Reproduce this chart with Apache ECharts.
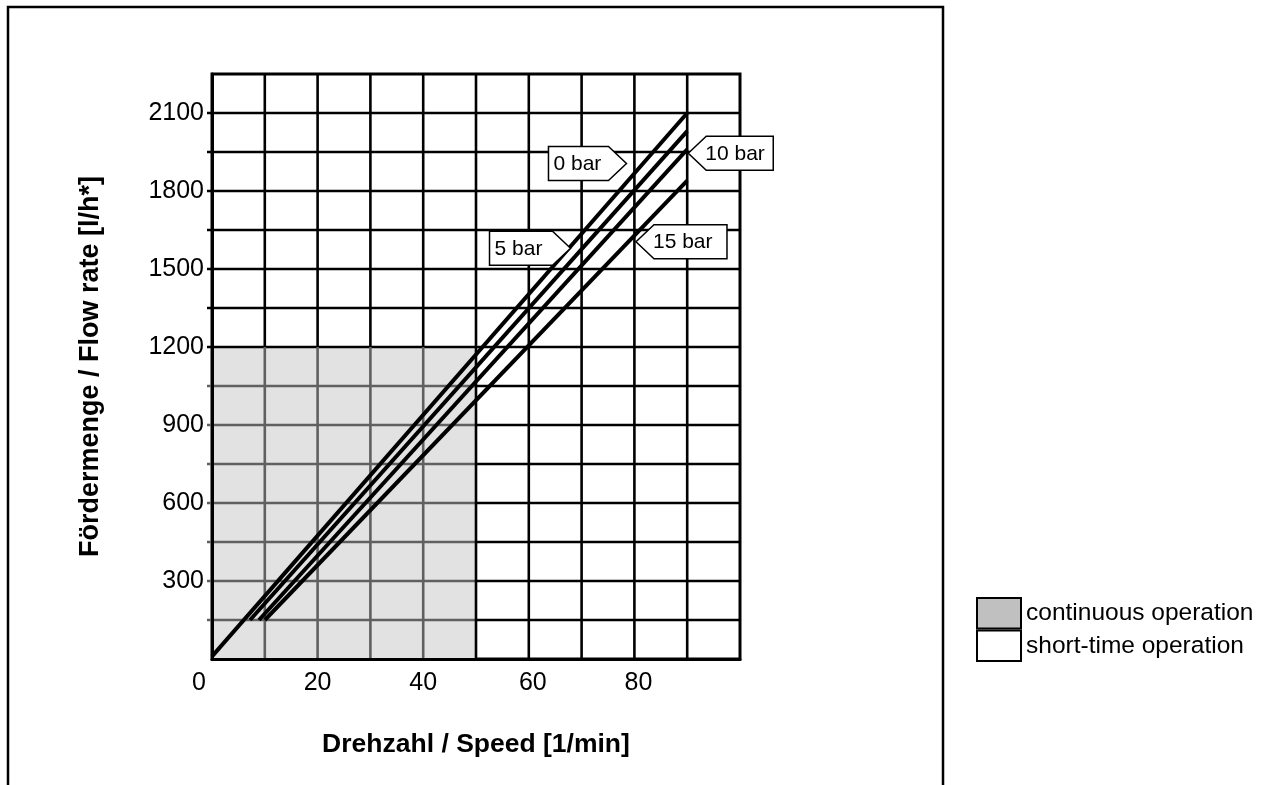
<!DOCTYPE html>
<html>
<head>
<meta charset="utf-8">
<script src="https://cdn.jsdelivr.net/npm/echarts@6/dist/echarts.min.js"></script>
<style>
html,body{margin:0;padding:0;background:#fff;}
#chart{width:1273px;height:785px;}
</style>
</head>
<body>
<div id="chart"></div>
<script>
// ---------- data ----------
const speedTicks = [0, 10, 20, 30, 40, 50, 60, 70, 80, 90, 100];
const flowTicks = [0, 150, 300, 450, 600, 750, 900, 1050, 1200, 1350, 1500, 1650, 1800, 1950, 2100, 2250];
const speedLabels = [0, 20, 40, 60, 80];
const flowLabels = [300, 600, 900, 1200, 1500, 1800, 2100];
const continuousSpeed = [0, 50];
const continuousFlow = [0, 1200];

const pressureNames = ['0 bar', '5 bar', '10 bar', '15 bar'];
const startSpeed = [0, 7.2, 8.9, 10];
const startFlow = [10, 150, 150, 150];
const endSpeed = [90, 90, 90, 90];
const endFlow = [2100, 2030, 1960, 1840];

const calloutSpeed = [78.5, 67.9, 90.2, 80.3];
const calloutFlow = [1906, 1580, 1945, 1605];
const calloutSide = ['left', 'left', 'right', 'right'];

const legendNames = ['continuous operation', 'short-time operation'];

// ---------- styles ----------
const FONT = '"Liberation Sans", Arial, Helvetica, sans-serif';
const calloutBoxWidth = [78, 81, 85, 91];
const GRID_BLACK = '#000000';
const GRID_GRAY = '#606060';
const AREA_GRAY = '#e2e2e2';
const LEGEND_GRAY = '#c0c0c0';

const chart = echarts.init(document.getElementById('chart'), null, { renderer: 'canvas' });

const lineSeries = pressureNames.map((name, i) => ({
  name: name,
  type: 'line',
  z: 4,
  symbol: 'none',
  silent: true,
  lineStyle: { color: '#000', width: 4 },
  data: [[startSpeed[i], startFlow[i]], [endSpeed[i], endFlow[i]]]
}));

const gridSeries = {
  name: legendNames[0],
  type: 'custom',
  z: 1,
  silent: true,
  clip: false,
  itemStyle: { color: LEGEND_GRAY },
  data: [[0]],
  renderItem: function (params, api) {
    const children = [];
    const xMin = speedTicks[0], xMax = speedTicks[speedTicks.length - 1];
    const yMin = flowTicks[0], yMax = flowTicks[flowTicks.length - 1];
    const cx = continuousSpeed[1], cy = continuousFlow[1];
    const a = api.coord([continuousSpeed[0], continuousFlow[1]]);
    const b = api.coord([continuousSpeed[1], continuousFlow[0]]);
    children.push({
      type: 'rect',
      shape: { x: a[0], y: a[1], width: b[0] - a[0], height: b[1] - a[1] },
      style: { fill: AREA_GRAY }
    });
    function seg(x1, y1, x2, y2, color, ext) {
      const p1 = api.coord([x1, y1]);
      const p2 = api.coord([x2, y2]);
      children.push({
        type: 'line',
        shape: { x1: p1[0] - (ext || 0), y1: p1[1], x2: p2[0], y2: p2[1] },
        style: { stroke: color, lineWidth: 2.6 }
      });
    }
    // horizontal grid lines (with short outward tick)
    flowTicks.slice(1, -1).forEach(function (w) {
      if (w < cy) {
        seg(xMin, w, cx, w, GRID_GRAY, 5);
        seg(cx, w, xMax, w, GRID_BLACK, 0);
      } else {
        seg(xMin, w, xMax, w, GRID_BLACK, 5);
      }
    });
    // vertical grid lines
    speedTicks.slice(1, -1).forEach(function (v) {
      if (v < cx) {
        seg(v, yMin, v, cy, GRID_GRAY, 0);
        seg(v, cy, v, yMax, GRID_BLACK, 0);
      } else {
        seg(v, yMin, v, yMax, GRID_BLACK, 0);
      }
    });
    return { type: 'group', children: children };
  }
};

const shortSeries = {
  name: legendNames[1],
  type: 'custom',
  silent: true,
  itemStyle: { color: '#fff' },
  data: [],
  renderItem: function () { return null; }
};

const calloutSeries = {
  name: 'callouts',
  type: 'custom',
  z: 6,
  silent: true,
  clip: false,
  data: pressureNames.map((n, i) => [i, calloutSpeed[i], calloutFlow[i]]),
  renderItem: function (params, api) {
    const i = api.value(0);
    const p = api.coord([api.value(1), api.value(2)]);
    const W = calloutBoxWidth[i], T = 18, U = 17, D = 17;
    let pts, tx;
    if (calloutSide[i] === 'left') {
      pts = [[p[0] - W, p[1] - U], [p[0] - T, p[1] - U], [p[0], p[1]], [p[0] - T, p[1] + D], [p[0] - W, p[1] + D]];
      tx = p[0] - W + 5;
    } else {
      pts = [[p[0], p[1]], [p[0] + T, p[1] - U], [p[0] + W, p[1] - U], [p[0] + W, p[1] + D], [p[0] + T, p[1] + D]];
      tx = p[0] + T - 1;
    }
    return {
      type: 'group',
      children: [
        { type: 'polygon', shape: { points: pts }, style: { fill: '#fff', stroke: '#000', lineWidth: 1.5 } },
        { type: 'text', style: { text: pressureNames[i], x: tx, y: p[1] + 1, align: 'left', verticalAlign: 'middle',
          font: '21px ' + FONT, fill: '#000' } }
      ]
    };
  }
};

const option = {
  animation: false,
  backgroundColor: '#fff',
  textStyle: { fontFamily: FONT },
  grid: {
    left: 212, right: 533, top: 74, bottom: 126,
    show: true, borderColor: '#000', borderWidth: 3, backgroundColor: 'transparent'
  },
  xAxis: {
    type: 'value', min: 0, max: 100, interval: 10, z: 10,
    splitLine: { show: false },
    axisTick: { show: false },
    axisLine: { show: true, onZero: false, lineStyle: { color: '#000', width: 3 } },
    axisLabel: {
      color: '#000', fontSize: 25, margin: 12, fontFamily: FONT,
      formatter: function (v) {
        if (speedLabels.indexOf(v) < 0) return '';
        if (v === 0) return '{z|0}';
        if (v >= 60) return '{s|' + v + '}';
        return String(v);
      },
      rich: {
        z: { fontSize: 25, color: '#000', fontFamily: FONT, padding: [0, 26, 0, 0] },
        s: { fontSize: 25, color: '#000', fontFamily: FONT, padding: [0, 0, 0, 8] }
      }
    },
    name: 'Drehzahl / Speed [1/min]',
    nameLocation: 'middle',
    nameGap: 72,
    nameTextStyle: { color: '#000', fontSize: 26.5, fontWeight: 'bold', fontFamily: FONT }
  },
  yAxis: {
    type: 'value', min: 0, max: 2250, interval: 150, z: 10,
    splitLine: { show: false },
    axisTick: { show: false },
    axisLine: { show: true, onZero: false, lineStyle: { color: '#000', width: 3 } },
    axisLabel: {
      color: '#000', fontSize: 25, margin: 8, fontFamily: FONT,
      formatter: function (v) { return flowLabels.indexOf(v) >= 0 ? String(v) : ''; }
    },
    name: 'Fördermenge / Flow rate [l/h*]',
    nameLocation: 'middle',
    nameGap: 108,
    nameRotate: 90,
    nameTextStyle: { color: '#000', fontSize: 27, fontWeight: 'bold', fontFamily: FONT }
  },
  legend: {
    orient: 'vertical', left: 976, top: 597, padding: 0,
    itemWidth: 44, itemHeight: 30.5, itemGap: 0,
    icon: 'rect', selectedMode: false,
    textStyle: { color: '#000', fontSize: 24.5, fontFamily: FONT },
    itemStyle: { borderColor: '#000', borderWidth: 2 },
    data: [
      { name: legendNames[0], itemStyle: { color: LEGEND_GRAY, borderColor: '#000', borderWidth: 2 } },
      { name: legendNames[1], itemStyle: { color: '#fff', borderColor: '#000', borderWidth: 2 } }
    ]
  },
  graphic: [
    { type: 'rect', z: 0, silent: true, shape: { x: 8, y: 7, width: 935, height: 850 },
      style: { fill: 'none', stroke: '#000', lineWidth: 2.5 } }
  ],
  series: [gridSeries, shortSeries].concat(lineSeries).concat([calloutSeries])
};

chart.setOption(option);
</script>
</body>
</html>
